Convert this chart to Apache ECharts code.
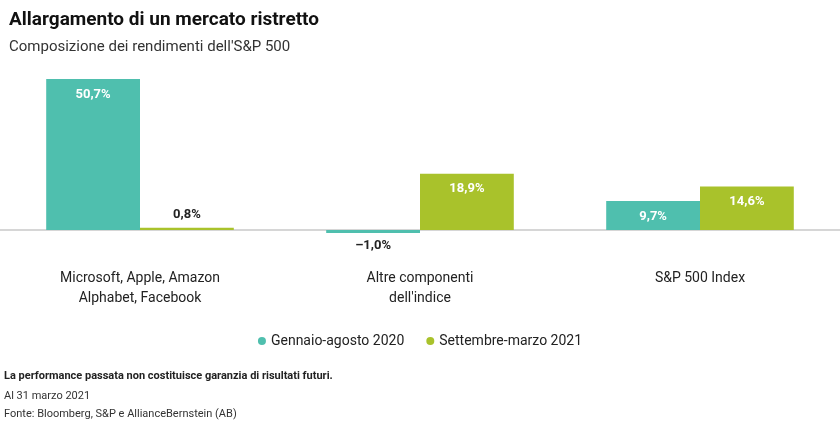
<!DOCTYPE html><html><head><meta charset="utf-8"><script src="https://cdn.jsdelivr.net/npm/echarts@6/dist/echarts.min.js"></script>
<style>body{margin:0}#c{width:840px;height:424px}</style></head><body><div id="c"></div><script>
const categories=['Microsoft, Apple, Amazon\nAlphabet, Facebook','Altre componenti\ndell\'indice','S&P 500 Index'];
const s1Name='Gennaio-agosto 2020', s2Name='Settembre-marzo 2021';
const s1=[50.7,-1.0,9.7];
const s2=[0.8,18.9,14.6];
const fmt=v=>(v<0?'\u2013':'')+Math.abs(v).toFixed(1).replace('.',',')+'%';
function lab(v){
  if(v>=5) return {show:true,position:'insideTop',color:'#fff',fontWeight:'bold',fontSize:13,distance:9,formatter:p=>fmt(p.value)};
  if(v>=0) return {show:true,position:'top',color:'#222',fontWeight:'bold',fontSize:13,distance:6,formatter:p=>fmt(p.value)};
  return {show:true,position:'bottom',color:'#222',fontWeight:'bold',fontSize:13,distance:6,formatter:p=>fmt(p.value)};
}
const ch=echarts.init(document.getElementById('c'));
ch.setOption({
  textStyle:{fontFamily:'Roboto'},
  title:[{text:'Allargamento di un mercato ristretto',left:4,top:6,textStyle:{fontSize:19,fontWeight:'bold',color:'#111'}},
         {text:"Composizione dei rendimenti dell'S&P 500",left:4,top:35,textStyle:{fontSize:15,fontWeight:'normal',color:'#333'}}],
  graphic:[
    {type:'text',left:4,top:371,style:{text:'La performance passata non costituisce garanzia di risultati futuri.',font:'bold 11px Roboto',fill:'#222'}},
    {type:'text',left:4,top:391,style:{text:'Al 31 marzo 2021',font:'11px Roboto',fill:'#333'}},
    {type:'text',left:4,top:409,style:{text:'Fonte: Bloomberg, S&P e AllianceBernstein (AB)',font:'11px Roboto',fill:'#333'}}
  ],
  legend:{top:329,left:'center',itemWidth:8,itemHeight:8,icon:'circle',itemGap:22,textStyle:{fontSize:14,color:'#222'},data:[s1Name,s2Name]},
  grid:{left:0,right:0,top:78,bottom:189.5},
  xAxis:{type:'category',data:categories,axisTick:{show:false},axisLine:{onZero:true,lineStyle:{color:'#c8c8c8',width:1.5}},
    axisLabel:{margin:34,fontSize:14,color:'#222',lineHeight:20}},
  yAxis:{type:'value',min:-1.5,max:51,show:false,splitLine:{show:false}},
  series:[
    {name:s1Name,type:'bar',barGap:'0%',barCategoryGap:'33%',itemStyle:{color:'#4fbfae'},
      data:s1.map(v=>({value:v,label:lab(v)}))},
    {name:s2Name,type:'bar',itemStyle:{color:'#a9c22b'},
      data:s2.map(v=>({value:v,label:lab(v)}))}
  ]
});
</script></body></html>
